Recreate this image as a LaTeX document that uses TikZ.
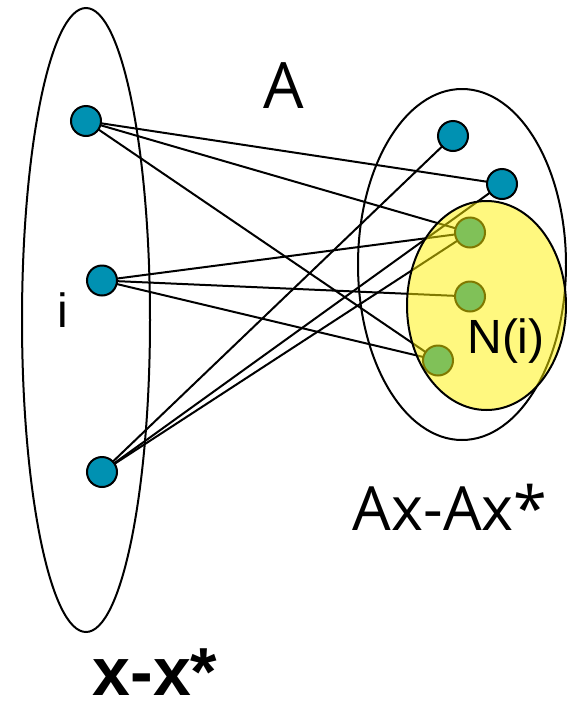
\documentclass[tikz,border=0pt]{standalone}
\usepackage{fontspec}
\setmainfont{Liberation Sans}
\newfontfamily\osans{Open Sans}
\definecolor{nodeblue}{RGB}{0,145,178}
\begin{document}
\begin{tikzpicture}[x=1pt,y=-1pt,
  vtx/.style={circle,draw=black,line width=2pt,fill=nodeblue,minimum size=30pt,inner sep=0pt},
  edge/.style={line width=2pt},
  setline/.style={line width=2pt},
  lbl/.style={inner sep=0pt,anchor=center}]
\useasboundingbox (0,0) rectangle (567,702);
% sets
\draw[setline] (86,320) ellipse [x radius=64, y radius=312];
\draw[setline] (462,264.5) ellipse [x radius=104, y radius=175.5];
% node positions
\coordinate (l1) at (86,121);
\coordinate (l2) at (102,280.5);
\coordinate (l3) at (102,472);
\coordinate (r1) at (453,136);
\coordinate (r2) at (502,184);
\coordinate (g1) at (470,232.5);
\coordinate (g2) at (470,296.5);
\coordinate (g3) at (438,360.5);
% edges
\draw[edge] (l1) -- (r2);
\draw[edge] (l1) -- (g1);
\draw[edge] (l1) -- (g3);
\draw[edge] (l2) -- (g1);
\draw[edge] (l2) -- (g2);
\draw[edge] (l2) -- (g3);
\draw[edge] (l3) -- (r1);
\draw[edge] (l3) -- (r2);
\draw[edge] (l3) -- (g1);
% vertices
\node[vtx] (L1) at (l1) {};
\node[vtx] (L2) at (l2) {};
\node[vtx] (L3) at (l3) {};
\node[vtx] (R1) at (r1) {};
\node[vtx] (R2) at (r2) {};
\node[vtx] (G1) at (g1) {};
\node[vtx] (G2) at (g2) {};
\node[vtx] (G3) at (g3) {};
% neighbourhood overlay
\fill[yellow,fill opacity=0.5] (486.5,305.5) ellipse [x radius=79.5, y radius=104.5];
\draw[setline] (486.5,305.5) ellipse [x radius=79.5, y radius=104.5];
% labels
\node[lbl] (tA) at (284,86) {\osans\fontsize{64}{72}\selectfont A};
\node[lbl] (tAx) at (450,507) {\osans\fontsize{61}{72}\selectfont Ax-Ax*};
\node[lbl,anchor=base] (tx) at (155,695) {\bfseries\fontsize{68}{80}\selectfont x-x*};
\node[lbl] (ti) at (63,310) {\fontsize{48}{56}\selectfont i};
\node[lbl] (tN) at (506,341) {\fontsize{48}{56}\selectfont N(i)};
\end{tikzpicture}
\end{document}
